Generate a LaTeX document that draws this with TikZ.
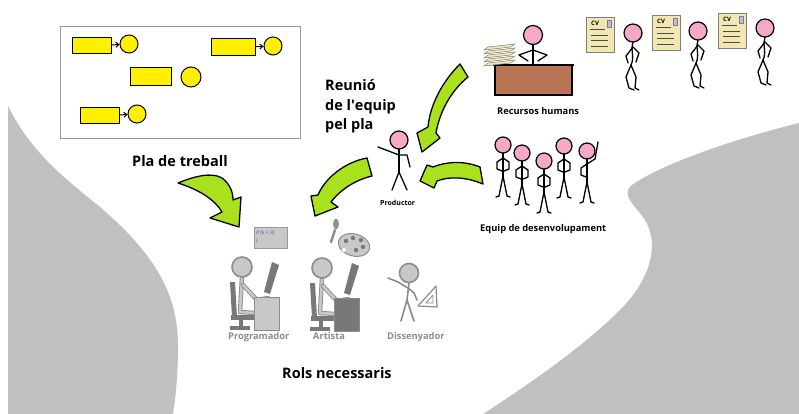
\documentclass[tikz,border=0pt]{standalone}
\usepackage{fontspec}
\setmainfont{Open Sans}
\usetikzlibrary{arrows.meta}

\definecolor{bggray}{RGB}{192,192,192}
\definecolor{planyellow}{RGB}{255,240,0}
\definecolor{arrowgreen}{RGB}{170,225,30}
\definecolor{headpink}{RGB}{245,168,200}
\definecolor{deskbrown}{RGB}{185,115,85}
\definecolor{paper}{RGB}{242,230,178}
\definecolor{cvlilac}{RGB}{190,185,235}
\definecolor{rolegray}{RGB}{140,140,140}
\definecolor{lightfig}{RGB}{200,200,200}
\definecolor{darkfig}{RGB}{120,120,120}

\tikzset{
	fletxa/.style={fill=arrowgreen, draw=black, line width=1.3pt, line join=round},
	tasca/.style={draw=black, fill=planyellow, line width=1pt, inner sep=0pt, minimum width=39pt, minimum height=16pt},
	fita/.style={circle, draw=black, fill=planyellow, line width=1pt, inner sep=0pt, minimum size=18pt},
	titol/.style={font=\bfseries\fontsize{14.5}{17}\selectfont, inner sep=0pt, anchor=base west},
	etiq/.style={font=\bfseries\fontsize{9.3}{11}\selectfont, inner sep=0pt, anchor=base west},
	rol/.style={etiq, text=rolegray},
	limb/.style={line width=1.3pt, line cap=round, line join=round},
	pinkhead/.style={draw=black, fill=headpink, line width=1.2pt},
	grayhead/.style={draw=rolegray, fill=lightfig, line width=1.6pt},
	grayline/.style={draw=rolegray, line width=1.6pt, line cap=round, line join=round},
	bodyline/.style={draw=rolegray, line width=.9pt, double=lightfig, double distance=2.6pt, line cap=round, line join=round},
	sheet/.style={draw=gray, fill=paper, line width=.5pt},
	% gent fent cua amb el cv
	pics/walker/.style={code={
		\draw[limb] (0,9) .. controls (-3,16) and (2,24) .. (-2,32);
		\draw[limb] (0,14) -- (-7,23) -- (-5,30);
		\draw[limb] (0,14) -- (6,20) -- (3,29);
		\draw[limb] (-2,32) -- (-7,44) -- (-4,55) -- (1,57);
		\draw[limb] (-2,32) -- (3,44) -- (2,55) -- (6,57);
		\draw[pinkhead] (0,0) circle (9pt);
	}},
	% equip, mans a la cintura
	pics/stander/.style={code={
		\draw[limb] (0,8) -- (0,31);
		\draw[limb] (0,13) -- (-6,17) -- (-6,24) -- (-1,26);
		\draw[limb] (0,13) -- (6,17) -- (6,24) -- (1,26);
		\draw[limb] (0,31) -- (-4,51) -- (-7,52);
		\draw[limb] (0,31) -- (4,51) -- (7,52);
		\draw[pinkhead] (0,0) circle (8pt);
	}},
	pics/waver/.style={code={
		\draw[limb] (0,8) -- (0,31);
		\draw[limb] (0,13) -- (-6,17) -- (-6,24) -- (-1,26);
		\draw[limb] (0,13) -- (8,8) -- (11,-9);
		\draw[limb] (0,31) -- (-4,51) -- (-7,52);
		\draw[limb] (0,31) -- (4,51) -- (7,52);
		\draw[pinkhead] (0,0) circle (8pt);
	}},
	pics/cv/.style={code={
		\draw[sheet] (0,0) rectangle (28,35);
		\node[font=\bfseries\fontsize{6}{6}\selectfont, inner sep=0pt, anchor=base west] (lletres) at (5,9) {CV};
		\draw[fill=cvlilac, draw=gray, line width=.5pt] (21,3) rectangle (25,10);
		\draw[gray!60!black, line width=.6pt] (4,12) -- (19,12) (5,18) -- (22,18) (5,23) -- (22,23) (5,29) -- (22,29);
	}},
	% assegut a l'ordinador
	pics/desker/.style={code={
		\fill[darkfig] (-12,15) -- (-7,15) -- (-5,50) -- (-10,50) -- cycle;
		\fill[darkfig] (-11,48) rectangle (12,53);
		\fill[darkfig] (-3,53) rectangle (1,59);
		\fill[darkfig] (-12,59) rectangle (8,63);
		\draw[bodyline] (0,10) -- (-2,45) -- (13,46);
		\draw[bodyline] (1,18) -- (15,33) -- (26,31);
		\fill[darkfig] (30,-5) -- (37,-2) -- (28,27) -- (22,25) -- cycle;
		\draw[draw=rolegray, line width=1pt, fill=#1] (12,30) rectangle (37,63);
		\draw[grayhead] (0,0) circle (10pt);
	}},
}

\begin{document}
\begin{tikzpicture}[x=1pt,y=-1pt]
	\useasboundingbox (0,0) rectangle (799,414);

	% fons
	\fill[bggray] (8,106) .. controls (30,150) and (60,175) .. (100,207) .. controls (150,250) and (178,290) .. (178,345) .. controls (178,380) and (175,400) .. (173,414) -- (8,414) -- cycle;
	\fill[bggray] (799,123) .. controls (730,140) and (660,165) .. (632,185) .. controls (620,195) and (635,205) .. (645,220) .. controls (660,245) and (650,280) .. (620,310) .. controls (580,350) and (520,390) .. (483,414) -- (799,414) -- cycle;

	% el pla
	\draw[gray!80, line width=.8pt] (60,26) rectangle (300,138);
	\node[tasca] (t1) at (91.5,46) {};
	\node[fita] (f1) at (129,44) {};
	\node[tasca, minimum width=44pt, minimum height=17pt] (t2) at (233,47.5) {};
	\node[fita] (f2) at (273,46) {};
	\node[tasca, minimum width=41pt, minimum height=18pt] (t3) at (150.5,77) {};
	\node[fita, minimum size=20pt] (f3) at (191,77) {};
	\node[tasca] (t4) at (99.5,116) {};
	\node[fita] (f4) at (137,114) {};
	\draw[line width=1pt, -{Straight Barb[length=3pt,width=5pt]}] (t1) -- (f1);
	\draw[line width=1pt, -{Straight Barb[length=3pt,width=5pt]}] (t2) -- (f2);
	\draw[line width=1pt, -{Straight Barb[length=3pt,width=5pt]}] (t4) -- (f4);
	\node[titol] (pla) at (132,166) {Pla de treball};

	% reunio
	\node[titol] (re1) at (325,91) {Reunió};
	\node[titol] (re2) at (325,110.5) {de l\textquotesingle equip};
	\node[titol] (re3) at (325,130) {pel pla};

	% recursos humans
	\draw[limb] (533,45) -- (533,66);
	\draw[limb] (533,50) -- (519,55) -- (528,61);
	\draw[limb] (533,50) -- (547,55) -- (538,61);
	\draw[pinkhead] (533,35) circle (9.5pt);
	\draw[line width=1.2pt, fill=deskbrown] (495,65) rectangle (572,95);
	\draw[line width=2pt] (493,65) -- (574,65);
	\foreach \i in {0,...,4}
		\draw[sheet] (484,{66-4*\i}) -- (511,{63-4*\i}) -- (515,{60-4*\i}) -- (488,{63-4*\i}) -- cycle;
	\node[etiq] (rh) at (497,115) {Recursos humans};

	\pic (cv1) at (586,17) {cv};
	\pic (cv2) at (652,15) {cv};
	\pic (cv3) at (718,13) {cv};
	\pic (w1) at (633,33) {walker};
	\pic (w2) at (698,31) {walker};
	\pic (w3) at (765,28) {walker};

	% equip
	\pic (e1) at (503,145) {stander};
	\pic (e2) at (522,153) {stander};
	\pic (e3) at (544,161) {stander};
	\pic (e4) at (564,146) {stander};
	\pic (e5) at (587,151) {waver};
	\node[etiq] (eq) at (480,231) {Equip de desenvolupament};

	% productor
	\draw[limb] (399,149) -- (399,172);
	\draw[limb] (399,155) -- (386,150) -- (378,147);
	\draw[limb] (399,155) -- (407,155) -- (410,167);
	\draw[limb] (399,172) -- (392,190);
	\draw[limb] (399,172) -- (407,190);
	\draw[pinkhead] (399,140) circle (9pt);
	\node[etiq, font=\bfseries\fontsize{7}{8}\selectfont] (prod) at (380,205) {Productor};

	% fletxes
	\draw[fletxa] (178,183) .. controls (195,176) and (212,172) .. (222,178) .. controls (230,184) and (233,192) .. (233,200) -- (241,197) -- (239,227) -- (210,218) -- (222,212) .. controls (215,200) and (200,190) .. cycle;
	\draw[fletxa] (367,158) .. controls (345,162) and (325,178) .. (318,195) -- (311,196) -- (315,216) -- (338,207) -- (331,202) .. controls (340,190) and (355,180) .. (372,176) -- cycle;
	\draw[fletxa] (460,64) .. controls (442,82) and (430,105) .. (428,127) -- (417,133) -- (422,152) -- (440,138) -- (436,133) .. controls (440,110) and (452,90) .. (468,77) -- cycle;
	\draw[fletxa] (480,167) .. controls (465,161) and (448,161) .. (433,167) -- (427,165) -- (420,181) -- (434,188) -- (437,181) .. controls (450,176) and (466,177) .. (483,184) -- cycle;

	% rols
	\draw[fill=lightfig, draw=gray!80, line width=.6pt] (254,227) rectangle (287,248);
	\node[font=\fontsize{5}{6}\selectfont, text=blue!40!gray, inner sep=0pt, anchor=base west] (codi1) at (256,234) {if (k < 3)};
	\node[font=\fontsize{5}{6}\selectfont, text=blue!40!gray, inner sep=0pt, anchor=base west] (codi2) at (256,242) {\{};
	\pic (prog) at (242,267) {desker=lightfig};
	\pic (art) at (322,268) {desker=darkfig};

	% pinzell i paleta
	\draw[rolegray, line width=2.5pt, line cap=round] (331,242) -- (335,230);
	\fill[darkfig!80] (336,224) ellipse (3pt and 5.5pt);
	\draw[fill=lightfig, draw=rolegray, line width=1pt, rotate around={-15:(354,245)}] (354,245) ellipse (16pt and 11pt);
	\foreach \p in {(346,241),(353,238),(361,240),(363,247),(356,250)}
		\fill[darkfig] \p circle (2.2pt);
	\fill[white] (344,250) circle (2pt);

	% dissenyador
	\draw[grayline] (409,283) -- (407,300);
	\draw[grayline] (407,300) -- (401,321);
	\draw[grayline] (407,300) -- (414,321);
	\draw[grayline] (408,288) -- (398,282) -- (388,278);
	\draw[grayline] (408,288) -- (414,293) -- (417,300);
	\draw[grayhead] (409,273) circle (9.5pt);
	\draw[grayline, line width=1.2pt] (418,306) -- (436,286) -- (437,307) -- cycle;
	\draw[grayline, line width=.8pt] (426,303) -- (433,295) -- (433,303) -- cycle;

	\node[rol] (rprog) at (228,339) {Programador};
	\node[rol] (rart) at (313,339) {Artista};
	\node[rol] (rdis) at (387,339) {Dissenyador};
	\node[titol] (rols) at (282,378) {Rols necessaris};
\end{tikzpicture}
\end{document}
